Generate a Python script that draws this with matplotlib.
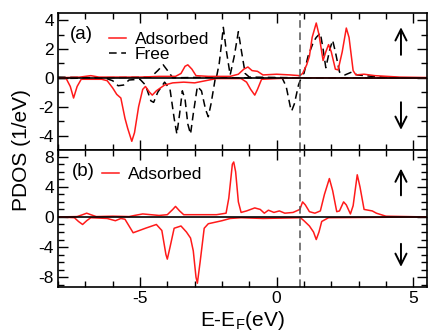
import matplotlib
matplotlib.use("Agg")
import matplotlib.pyplot as plt
from matplotlib.ticker import MultipleLocator

plt.rcParams['font.family'] = ['Liberation Sans', 'DejaVu Sans']
plt.rcParams['axes.unicode_minus'] = False

# Fermi level position used for the dashed guide line
e_fermi = 0.87

# (a) adsorbed, spin up
a_ads_up_e = [-8, -7.2, -6.8, -6.5, -5, -4.3, -3.7, -3.5, -3.35, -3.25, -3.1, -2.95, -2.5, -1.7,
              -1.4, -1.2, -1.05, -0.9, -0.7, -0.5, 0, 0.5, 0.85, 0.95, 1.1, 1.2, 1.3, 1.45, 1.55,
              1.7, 1.8, 1.9, 2.0, 2.15, 2.25, 2.4, 2.55, 2.65, 2.8, 2.9, 3.2, 3.6, 4.5, 5.5]
a_ads_up_v = [0, 0.05, 0.15, 0.05, 0.05, 0.1, 0.1, 0.3, 0.8, 0.9, 0.6, 0.15, 0.1, 0.1,
              0.25, 0.6, 0.75, 0.5, 0.45, 0.2, 0.25, 0.2, 0.15, 0.3, 0.9, 1.5, 2.8, 3.8, 3.0,
              1.2, 1.8, 2.3, 1.8, 0.6, 0.55, 1.8, 3.45, 2.8, 0.5, 0.2, 0.25, 0.15, 0.05, 0.02]

# (a) adsorbed, spin down
a_ads_dn_e = [-8, -7.7, -7.55, -7.43, -7.3, -7.15, -6.8, -6.4, -6.2, -6.0, -5.85, -5.7, -5.55,
              -5.45, -5.3, -5.2, -5.05, -4.9, -4.8, -4.65, -4.55, -4.4, -4.1, -3.8, -3.4, -3.0,
              -2.6, -2.2, -1.3, -1.1, -0.95, -0.8, -0.7, -0.55, 0, 0.87, 5.5]
a_ads_dn_v = [0, -0.05, -0.6, -1.4, -0.6, -0.1, -0.1, -0.1, -0.2, -0.7, -1.15, -1.4, -2.8,
              -3.5, -4.4, -3.8, -2.0, -0.8, -0.6, -1.0, -1.2, -0.9, -0.5, -0.35, -0.3, -0.35,
              -0.2, -0.05, -0.05, -0.3, -0.8, -1.2, -0.8, -0.1, -0.05, 0, -0.03]

# (a) free, spin up
a_free_up_e = [-8, -6.5, -4.6, -4.35, -4.15, -3.95, -3.8, -2.2, -2.1, -1.95, -1.85, -1.7, -1.55,
               -1.4, -1.3, -1.15, -1.0, 0.8, 1.0, 1.15, 1.35, 1.45, 1.6, 1.7, 1.8, 1.95, 2.05,
               2.15, 2.3, 2.5, 2.75, 2.95, 3.5, 4.5, 5.5]
a_free_up_v = [0.05, 0, 0.05, 0.5, 0.9, 0.4, 0, 0.05, 1.0, 3.5, 2.0, 0.2, 1.5,
               3.2, 2.0, 0.3, 0.05, 0, 0.3, 1.5, 2.5, 2.8, 3.1, 2.0, 0.7, 2.0, 2.6,
               1.8, 0.4, 0.2, 0.4, 0.2, 0.1, 0, 0]

# (a) free, spin down
a_free_dn_e = [-8, -6.3, -6.0, -5.8, -5.6, -5.4, -5.0, -4.8, -4.6, -4.5, -4.35, -4.1, -3.9, -3.75,
               -3.65, -3.55, -3.45, -3.35, -3.25, -3.15, -3.05, -2.9, -2.75, -2.6, -2.5, -2.4,
               -2.25, -2.0, 0.2, 0.35, 0.5, 0.55, 0.65, 0.8, 0.9, 5.5]
a_free_dn_v = [-0.05, 0, -0.2, -0.55, -0.5, -0.15, -0.1, -0.5, -1.6, -1.7, -1.0, -0.3, -0.8, -2.8,
               -3.9, -2.5, -0.9, -1.5, -3.2, -3.9, -2.5, -0.6, -0.9, -2.2, -2.7, -1.8,
               -0.1, 0, 0, -0.6, -2.0, -2.3, -1.8, -0.5, 0, 0]

# (b) adsorbed, spin up
b_ads_up_e = [-8, -7.3, -7.1, -6.95, -6.8, -6.6, -6.0, -5.4, -5.2, -4.9, -4.6, -4.3, -4.0, -3.8,
              -3.7, -3.55, -3.4, -3.0, -2.2, -1.85, -1.75, -1.62, -1.57, -1.5, -1.4, -1.3, -1.1,
              -0.8, -0.6, -0.45, -0.3, -0.1, 0.1, 0.3, 0.6, 0.85, 0.95, 1.05, 1.2, 1.4, 1.6,
              1.75, 1.93, 2.05, 2.2, 2.3, 2.45, 2.55, 2.7, 2.8, 2.95, 3.05, 3.2, 3.5, 3.65, 4.0, 5.5]
b_ads_up_v = [0, 0.05, 0.3, 0.5, 0.3, 0.05, 0.1, 0.05, 0.2, 0.4, 0.3, 0.2, 0.3, 1.0,
              1.4, 0.8, 0.3, 0.3, 0.3, 0.5, 2.5, 7.0, 7.3, 6.0, 2.0, 0.6, 0.8,
              1.2, 1.0, 0.5, 0.9, 0.6, 0.8, 0.5, 0.6, 1.0, 2.0, 1.6, 0.7, 0.5, 0.8,
              3.0, 5.1, 3.5, 0.7, 0.8, 2.0, 1.6, 0.4, 1.5, 5.6, 4.0, 1.0, 0.8, 0.5, 0.1, 0]

# (b) adsorbed, spin down
b_ads_dn_e = [-8, -7.4, -7.25, -7.1, -6.95, -6.8, -6.2, -5.9, -5.7, -5.55, -5.4, -5.25, -5.1, -4.8,
              -4.4, -4.2, -4.05, -4.0, -3.9, -3.75, -3.5, -3.3, -3.15, -3.05, -2.95, -2.9, -2.8,
              -2.65, -2.5, -2.0, -1.7, -1.3, -0.5, 0.87, 1.0, 1.2, 1.35, 1.45, 1.55, 1.65, 1.9, 5.5]
b_ads_dn_v = [0, -0.1, -0.6, -1.0, -0.5, -0.1, -0.2, -0.5, -0.2, -0.3, -1.2, -2.1, -1.9, -1.5,
              -1.0, -1.8, -5.0, -5.6, -4.0, -1.5, -1.2, -2.0, -2.8, -4.5, -8.0, -8.8, -6.0,
              -1.5, -0.9, -0.5, -0.2, -0.1, -0.2, -0.1, -0.5, -1.2, -2.0, -3.0, -2.0, -0.6, -0.1, 0]

red = '#ff1a1a'
arrow = dict(arrowstyle='->', color='black', lw=1.4, mutation_scale=20)

fig = plt.figure(figsize=(4.28, 3.31), dpi=100)
ax1 = fig.add_axes([0.1355, 0.547, 0.862, 0.414])
ax2 = fig.add_axes([0.1355, 0.133, 0.862, 0.414], sharex=ax1)

# panel (a)
ax1.plot(a_free_up_e, a_free_up_v, color='black', lw=1.1, ls=(0, (5, 3)), label='Free')
ax1.plot(a_free_dn_e, a_free_dn_v, color='black', lw=1.1, ls=(0, (5, 3)))
ax1.plot(a_ads_up_e, a_ads_up_v, color=red, lw=1.1, label='Adsorbed')
ax1.plot(a_ads_dn_e, a_ads_dn_v, color=red, lw=1.1)
ax1.axhline(0, color='black', lw=1.2)
ax1.axvline(e_fermi, color='#555555', lw=1.1, ls=(0, (5, 3)))
ax1.set_ylim(-5, 4.5)
ax1.yaxis.set_major_locator(MultipleLocator(2))
ax1.yaxis.set_minor_locator(MultipleLocator(1))
h, l = ax1.get_legend_handles_labels()
ax1.legend(h[::-1], l[::-1], loc='upper left', bbox_to_anchor=(0.11, 0.94), frameon=False,
           fontsize=12.5, handlelength=1.0, handletextpad=0.5, labelspacing=0.0, borderaxespad=0.2)
ax1.text(0.033, 0.84, '(a)', transform=ax1.transAxes, fontsize=13.5, va='center')
ax1.annotate('', xy=(4.55, 3.7), xytext=(4.55, 1.4), arrowprops=arrow)
ax1.annotate('', xy=(4.55, -3.8), xytext=(4.55, -1.5), arrowprops=arrow)

# panel (b)
ax2.plot(b_ads_up_e, b_ads_up_v, color=red, lw=1.1, label='Adsorbed')
ax2.plot(b_ads_dn_e, b_ads_dn_v, color=red, lw=1.1)
ax2.axhline(0, color='black', lw=1.2)
ax2.axvline(e_fermi, color='#555555', lw=1.1, ls=(0, (5, 3)))
ax2.set_ylim(-9.3, 8.9)
ax2.yaxis.set_major_locator(MultipleLocator(4))
ax2.yaxis.set_minor_locator(MultipleLocator(1))
ax2.legend(loc='upper left', bbox_to_anchor=(0.09, 0.95), frameon=False, fontsize=12.5,
           handlelength=1.0, handletextpad=0.5, borderaxespad=0.2)
ax2.text(0.038, 0.84, '(b)', transform=ax2.transAxes, fontsize=13.5, va='center')
ax2.annotate('', xy=(4.55, 6.8), xytext=(4.55, 2.5), arrowprops=arrow)
ax2.annotate('', xy=(4.55, -7.0), xytext=(4.55, -3.2), arrowprops=arrow)

ax2.set_xlim(-8, 5.5)
ax2.xaxis.set_major_locator(MultipleLocator(5))
ax2.xaxis.set_minor_locator(MultipleLocator(1))
ax2.set_xlabel('E-E$_\\mathregular{F}$(eV)', fontsize=15, labelpad=2)
fig.text(0.05, 0.547, 'PDOS (1/eV)', rotation=90, fontsize=15, ha='center', va='center')

for ax in (ax1, ax2):
    ax.tick_params(which='both', direction='in', top=True, right=True, labelsize=12.5, pad=3)
    ax.tick_params(which='major', length=7, width=1)
    ax.tick_params(which='minor', length=4, width=1)
    for s in ax.spines.values():
        s.set_linewidth(1.2)
ax1.tick_params(labelbottom=False)

fig.savefig('out.png', dpi=100)
